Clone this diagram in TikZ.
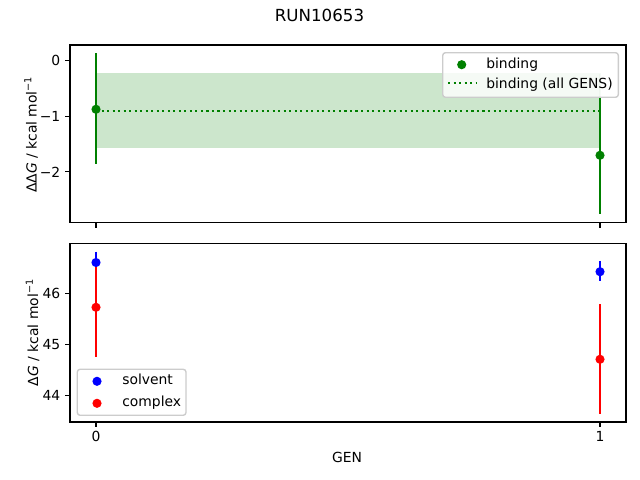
\documentclass[tikz,border=0pt]{standalone}
\usepackage{fontspec}
\setmainfont{DejaVu Sans}
\definecolor{mplgreen}{HTML}{008000}
\definecolor{mplblue}{HTML}{0000FF}
\definecolor{mplred}{HTML}{FF0000}
\definecolor{legendedge}{HTML}{CCCCCC}
\newcommand{\ErrBar}[4]{
    \draw[errbar, #1] (#2,#3) -- (#2,#4);
}
\newcommand{\DataDot}[3]{
    \fill[#1] (#2,#3) circle[radius=3.3bp];
}
\newcommand{\YTicks}[2]{
    \foreach \yy/\lab in {#1} {
        \draw[tickmark] (70,\yy) -- (65.1,\yy);
        \node[ticklab, anchor=east] (#2\lab) at (60.3,\yy) {\lab};
    }
}
\begin{document}
\begin{tikzpicture}[x=0.72bp, y=-0.72bp,
        font=\fontsize{10bp}{12bp}\selectfont,
        axframe/.style={draw=black, line width=0.8bp},
        tickmark/.style={black, line width=0.8bp},
        ticklab/.style={inner sep=0pt, outer sep=0pt},
        errbar/.style={line width=1.5bp},
        legendbox/.style={draw=legendedge, fill=white, fill opacity=0.8, line width=1bp, rounded corners=2bp},
        legendtext/.style={inner sep=0pt, anchor=base west}]
    \useasboundingbox (0,0) rectangle (640,480);
    \node[ticklab, anchor=base, font=\fontsize{12bp}{14bp}\selectfont] (title) at (319.5,21.7) {RUN10653};
    % top panel
    \fill[mplgreen, fill opacity=0.2] (96,73.7) rectangle (600,147.3);
    \draw[mplgreen, draw opacity=0.2, line width=1bp] (96,73.7) rectangle (600,147.3);
    \draw[mplgreen, line width=1.5bp, dash pattern=on 1.5bp off 2.475bp] (96,110.7) -- (600,110.7);
    \ErrBar{mplgreen}{96}{53.5}{164}
    \ErrBar{mplgreen}{600}{96.6}{214}
    \DataDot{mplgreen}{96}{109.3}
    \DataDot{mplgreen}{600}{155.3}
    \draw[axframe] (70,45) rectangle (626,222.7);
    \draw[tickmark] (96,222.7) -- (96,227.6);
    \draw[tickmark] (600,222.7) -- (600,227.6);
    \YTicks{60.3/0, 116.1/−1, 171.9/−2}{ta}
    \node[ticklab, rotate=90, anchor=base] (ylabtop) at (36.5,134.5) {ΔΔ\textit{G} / kcal mol\textsuperscript{−1}};
    \draw[legendbox] (442.7,52.7) rectangle (618.3,97.3);
    \DataDot{mplgreen}{461.7}{64.7}
    \node[legendtext] (legbind) at (486,68.7) {binding};
    \draw[mplgreen, line width=1.5bp, dash pattern=on 1.5bp off 2.475bp] (448,83.3) -- (476,83.3);
    \node[legendtext] (legall) at (486,88.7) {binding (all GENS)};
    % bottom panel
    \ErrBar{mplblue}{96}{251.7}{273.3}
    \ErrBar{mplblue}{600}{261}{281}
    \ErrBar{mplred}{96}{257.8}{356.7}
    \ErrBar{mplred}{600}{304.5}{414}
    \DataDot{mplblue}{96}{262.5}
    \DataDot{mplblue}{600}{271.7}
    \DataDot{mplred}{96}{307.3}
    \DataDot{mplred}{600}{359.3}
    \draw[axframe] (70,243.3) rectangle (626,422);
    \draw[tickmark] (96,422) -- (96,426.9);
    \draw[tickmark] (600,422) -- (600,426.9);
    \node[ticklab, anchor=base] (xt0) at (96,441.7) {0};
    \node[ticklab, anchor=base] (xt1) at (600,441.7) {1};
    \YTicks{293.3/46, 344.6/45, 395.9/44}{ba}
    \node[ticklab, rotate=90, anchor=base] (ylabbot) at (38,332.5) {Δ\textit{G} / kcal mol\textsuperscript{−1}};
    \node[ticklab, anchor=base] (xlab) at (347,462.7) {GEN};
    \draw[legendbox] (77.3,369.3) rectangle (186,415.3);
    \DataDot{mplblue}{97}{381.3}
    \node[legendtext] (legsolv) at (122,384.7) {solvent};
    \DataDot{mplred}{97}{403.3}
    \node[legendtext] (legcomp) at (122,406.7) {complex};
\end{tikzpicture}
\end{document}
